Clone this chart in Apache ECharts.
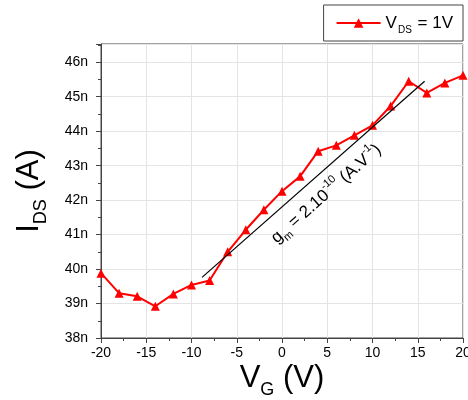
<!DOCTYPE html>
<html>
<head>
<meta charset="utf-8">
<script src="https://cdn.jsdelivr.net/npm/echarts@6/dist/echarts.min.js"></script>
<style>
html,body{margin:0;padding:0;background:#fff;}
#c{width:468px;height:400px;}
</style>
</head>
<body>
<div id="c"></div>
<script>
// Data
var vg = [-20, -18, -16, -14, -12, -10, -8, -6, -4, -2, 0, 2, 4, 6, 8, 10, 12, 14, 16, 18, 20];
var ids = [39.88, 39.30, 39.21, 38.92, 39.28, 39.54, 39.67, 40.50, 41.14, 41.72, 42.26, 42.69, 43.42, 43.59, 43.88, 44.17, 44.73, 45.45, 45.11, 45.40, 45.62];
var fitX = [-8.84, 15.76];
var fitY = [39.76, 45.45];
var xTicks = [-20, -15, -10, -5, 0, 5, 10, 15, 20];
var yTicks = [38, 39, 40, 41, 42, 43, 44, 45, 46];

var FONT = 'Liberation Sans, Arial, sans-serif';
var chart = echarts.init(document.getElementById('c'), null, {renderer: 'canvas'});
var axisCol = '#444';

var option = {
  animation: false,
  backgroundColor: '#fff',
  grid: {left: 101, right: 5, top: 44, bottom: 62, show: true, borderColor: axisCol, borderWidth: 1,
         containLabel: false, outerBoundsMode: 'none'},
  legend: {
    data: ['main'],
    right: 5, top: 5,
    padding: [6, 10, 6, 12],
    borderColor: axisCol, borderWidth: 1,
    itemWidth: 44, itemHeight: 12,
    itemGap: 4,
    formatter: function () { return '{a|V}{b|DS}{a| = 1V}'; },
    textStyle: {
      rich: {
        a: {fontFamily: FONT, fontSize: 17, color: '#000', lineHeight: 22},
        b: {fontFamily: FONT, fontSize: 10, color: '#000', lineHeight: 10, padding: [14, 1, 0, 1]}
      }
    }
  },
  xAxis: {
    type: 'value', min: xTicks[0], max: xTicks[xTicks.length - 1], interval: 5,
    axisLine: {show: true, onZero: false, lineStyle: {color: axisCol, width: 1}},
    axisTick: {show: true, length: 5, lineStyle: {color: axisCol}},
    minorTick: {show: true, splitNumber: 2, length: 3, lineStyle: {color: axisCol}},
    splitLine: {show: true, lineStyle: {color: '#e4e4e4', width: 1}},
    axisLabel: {color: '#000', fontFamily: FONT, fontSize: 14, margin: 8},
    name: '{a|V}{b|G}{a| (V)}',
    nameLocation: 'middle', nameGap: 23, nameMoveOverlap: false,
    nameTextStyle: {
      rich: {
        a: {fontFamily: FONT, fontSize: 31, color: '#000', lineHeight: 34},
        b: {fontFamily: FONT, fontSize: 18, color: '#000', lineHeight: 18, padding: [24, 0, 0, 0]}
      }
    }
  },
  yAxis: {
    type: 'value', min: yTicks[0], max: 46.53, interval: 1,
    axisLine: {show: true, onZero: false, lineStyle: {color: axisCol, width: 1}},
    axisTick: {show: true, length: 5, lineStyle: {color: axisCol}},
    minorTick: {show: true, splitNumber: 2, length: 3, lineStyle: {color: axisCol}},
    splitLine: {show: true, lineStyle: {color: '#e4e4e4', width: 1}},
    axisLabel: {color: '#000', fontFamily: FONT, fontSize: 14, margin: 13, showMaxLabel: false,
      formatter: function (v) { return yTicks.indexOf(v) >= 0 ? v + 'n' : ''; }},
    name: '{a|I}{b|DS}{a| (A)}',
    nameLocation: 'middle', nameGap: 55, nameMoveOverlap: false,
    nameTextStyle: {
      rich: {
        a: {fontFamily: FONT, fontSize: 31, color: '#000', lineHeight: 34},
        b: {fontFamily: FONT, fontSize: 18, color: '#000', lineHeight: 18, padding: [24, 0, 0, 0]}
      }
    }
  },
  series: [
    {
      name: 'main', type: 'line',
      data: vg.map(function (x, i) { return [x, ids[i]]; }),
      symbol: 'triangle', symbolSize: 9,
      lineStyle: {color: '#ff0000', width: 2},
      itemStyle: {color: '#ff0000'},
      z: 3
    },
    {
      name: 'fit', type: 'line', data: [],
      markLine: {
        silent: true, symbol: ['none', 'none'],
        lineStyle: {color: '#000', width: 1.2, type: 'solid'},
        label: {
          show: true, position: 'insideMiddleBottom', distance: 11,
          formatter: 'g{s|m} = 2.10{p|-10} (A.V{p|-1})',
          fontFamily: FONT, fontSize: 17, color: '#000',
          rich: {
            s: {fontFamily: FONT, fontSize: 11, color: '#000', lineHeight: 11, padding: [14, 0, 0, 0]},
            p: {fontFamily: FONT, fontSize: 11, color: '#000', lineHeight: 11, padding: [0, 0, 14, 0]}
          }
        },
        data: [[{coord: [fitX[0], fitY[0]]}, {coord: [fitX[1], fitY[1]]}]]
      },
      z: 2
    }
  ]
};
chart.setOption(option);
</script>
</body>
</html>
